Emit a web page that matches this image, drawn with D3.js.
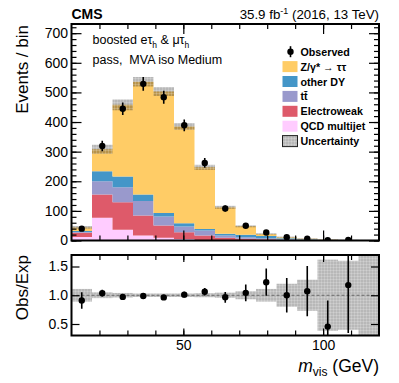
<!DOCTYPE html>
<html>
<head>
<meta charset="utf-8">
<script src="https://cdn.jsdelivr.net/npm/d3@7"></script>
<style>
  body { margin: 0; background: #fff; }
  svg { font-family: "Liberation Sans", Arial, Helvetica, sans-serif; }
  .axis path { display: none; }
  .axis line { stroke: #000; stroke-width: 1.2; }
  .axis text { font-size: 14px; fill: #000; }
</style>
</head>
<body>
<div id="chart"></div>
<script>
// bin edges of m_vis (GeV), 15 bins
var binEdges = [10, 17.33, 24.67, 32, 39.33, 46.67, 54, 61.33, 68.67, 76, 83.33, 90.67, 98, 105.33, 112.67, 120];

// stacked backgrounds, bottom to top
var qcd     = [12, 77, 36, 17, 9, 5, 2, 1, 0.5, 0.3, 0.2, 0.1, 0, 0, 0];
var ewk     = [14, 78, 93, 67, 42, 23, 15, 8, 5.5, 3.7, 1.8, 1, 0.4, 0.3, 0.2];
var ttbar   = [3, 45, 51, 49, 30, 19, 17, 8, 5, 4, 2, 1.5, 0.5, 0.4, 0.3];
var otherDY = [3, 34, 36, 22, 12, 11, 5, 6, 8, 7, 4, 2, 0.8, 0.6, 0.4];
var ztt     = [12, 74, 242, 381, 410, 327, 208, 89, 29, 7, 3, 1, 0.5, 0.4, 0.3];

var observed = [40, 319, 445, 529, 484, 389, 262, 108, 50, 27, 11, 6, 1, 2, 0];
// relative uncertainty of the expectation
var relUnc = [0.11, 0.05, 0.04, 0.03, 0.03, 0.03, 0.035, 0.045, 0.07, 0.11, 0.2, 0.27, 0.62, 0.6, 0.7];

var yTicks = [0, 100, 200, 300, 400, 500, 600, 700];
var ratioTicks = [0.5, 1.0, 1.5];
var xTicks = [50, 100];

var keys = ["qcd", "ewk", "ttbar", "otherDY", "ztt"];
var colors = {qcd: "#ffccff", ewk: "#de5a6a", ttbar: "#9999cc", otherDY: "#4496c8", ztt: "#ffcc66"};

var rows = binEdges.slice(0, -1).map(function(e, i) {
  return {i: i, lo: binEdges[i], hi: binEdges[i + 1],
    qcd: qcd[i], ewk: ewk[i], ttbar: ttbar[i], otherDY: otherDY[i], ztt: ztt[i]};
});
var totals = rows.map(function(r) { return r.qcd + r.ewk + r.ttbar + r.otherDY + r.ztt; });

const W = 399, H = 383;
const L = 71.5, R = 379, T1 = 24, B1 = 240.5, T2 = 255, B2 = 335.5;

var svg = d3.select("#chart").append("svg").attr("width", W).attr("height", H);
var defs = svg.append("defs");

var pat = defs.append("pattern").attr("id", "hatch")
  .attr("patternUnits", "userSpaceOnUse").attr("width", 3).attr("height", 3);
pat.append("rect").attr("width", 3).attr("height", 3).attr("fill", "rgba(0,0,0,0.28)");
pat.append("rect").attr("width", 3).attr("height", 1).attr("fill", "rgba(255,255,255,0.18)");
pat.append("rect").attr("width", 1).attr("height", 3).attr("fill", "rgba(255,255,255,0.18)");

defs.append("clipPath").attr("id", "clipTop").append("rect")
  .attr("x", L).attr("y", T1).attr("width", R - L).attr("height", B1 - T1);
defs.append("clipPath").attr("id", "clipBot").append("rect")
  .attr("x", L).attr("y", T2).attr("width", R - L).attr("height", B2 - T2);

var x = d3.scaleLinear().domain([10, 120]).range([L, R]);
var y = d3.scaleLinear().domain([0, 731]).range([B1, T1]);
var yr = d3.scaleLinear().domain([0.3, 1.7]).range([B2, T2]);

// ---- upper panel: stacked histogram
var stacked = d3.stack().keys(keys)(rows);
var area = d3.area()
  .x(function(p) { return x(p.x); })
  .y0(function(p) { return y(p.y0); })
  .y1(function(p) { return y(p.y1); });

var gTop = svg.append("g").attr("clip-path", "url(#clipTop)");
stacked.forEach(function(s) {
  var pts = [];
  s.forEach(function(d, i) {
    pts.push({x: rows[i].lo, y0: d[0], y1: d[1]});
    pts.push({x: rows[i].hi, y0: d[0], y1: d[1]});
  });
  gTop.append("path").attr("d", area(pts)).attr("fill", colors[s.key]);
});

// uncertainty band
gTop.selectAll(".unc").data(rows).enter().append("rect")
  .attr("x", function(d) { return x(d.lo); })
  .attr("width", function(d) { return x(d.hi) - x(d.lo); })
  .attr("y", function(d) { return y(totals[d.i] * (1 + relUnc[d.i])); })
  .attr("height", function(d) { return y(totals[d.i] * (1 - relUnc[d.i])) - y(totals[d.i] * (1 + relUnc[d.i])); })
  .attr("fill", "url(#hatch)");

// observed
var obsRows = rows.filter(function(d) { return observed[d.i] > 0; });
gTop.selectAll(".err").data(obsRows).enter().append("line")
  .attr("x1", function(d) { return x((d.lo + d.hi) / 2); })
  .attr("x2", function(d) { return x((d.lo + d.hi) / 2); })
  .attr("y1", function(d) { return y(observed[d.i] + Math.sqrt(observed[d.i])); })
  .attr("y2", function(d) { return y(observed[d.i] - Math.sqrt(observed[d.i])); })
  .attr("stroke", "#000").attr("stroke-width", 1.6);
gTop.selectAll(".pt").data(obsRows).enter().append("circle")
  .attr("cx", function(d) { return x((d.lo + d.hi) / 2); })
  .attr("cy", function(d) { return y(observed[d.i]); })
  .attr("r", 3.2).attr("fill", "#000");

// ---- lower panel: ratio
var gBot = svg.append("g").attr("clip-path", "url(#clipBot)");
gBot.selectAll(".runc").data(rows).enter().append("rect")
  .attr("x", function(d) { return x(d.lo); })
  .attr("width", function(d) { return x(d.hi) - x(d.lo); })
  .attr("y", function(d) { return yr(1 + relUnc[d.i]); })
  .attr("height", function(d) { return yr(1 - relUnc[d.i]) - yr(1 + relUnc[d.i]); })
  .attr("fill", "url(#hatch)");
gBot.append("line")
  .attr("x1", L).attr("x2", R).attr("y1", yr(1)).attr("y2", yr(1))
  .attr("stroke", "#666").attr("stroke-width", 1.2).attr("stroke-dasharray", "3,2");
gBot.selectAll(".rerr").data(obsRows).enter().append("line")
  .attr("x1", function(d) { return x((d.lo + d.hi) / 2); })
  .attr("x2", function(d) { return x((d.lo + d.hi) / 2); })
  .attr("y1", function(d) { return yr((observed[d.i] + Math.sqrt(observed[d.i])) / totals[d.i]); })
  .attr("y2", function(d) { return yr((observed[d.i] - Math.sqrt(observed[d.i])) / totals[d.i]); })
  .attr("stroke", "#000").attr("stroke-width", 1.6);
gBot.selectAll(".rpt").data(obsRows).enter().append("circle")
  .attr("cx", function(d) { return x((d.lo + d.hi) / 2); })
  .attr("cy", function(d) { return yr(observed[d.i] / totals[d.i]); })
  .attr("r", 3.2).attr("fill", "#000");

// ---- axes (ticks point inward)
function noLabel(g) { g.selectAll("text").remove(); }
var minorX = d3.range(20, 120, 10);
var minorY = d3.range(0, 731, 20);

svg.append("g").attr("class", "axis").attr("transform", "translate(" + L + ",0)")
  .call(d3.axisLeft(y).tickValues(yTicks).tickSize(-10).tickPadding(4).tickFormat(d3.format("d")))
  .selectAll("text").attr("x", -3.5);
svg.append("g").attr("class", "axis").attr("transform", "translate(" + L + ",0)")
  .call(d3.axisLeft(y).tickValues(minorY).tickSize(-5)).call(noLabel);
svg.append("g").attr("class", "axis").attr("transform", "translate(" + R + ",0)")
  .call(d3.axisRight(y).tickValues(yTicks).tickSize(-10)).call(noLabel);
svg.append("g").attr("class", "axis").attr("transform", "translate(" + R + ",0)")
  .call(d3.axisRight(y).tickValues(minorY).tickSize(-5)).call(noLabel);

[B1, B2].forEach(function(yy) {
  svg.append("g").attr("class", "axis").attr("transform", "translate(0," + yy + ")")
    .call(d3.axisBottom(x).tickValues(minorX).tickSize(-5)).call(noLabel);
  svg.append("g").attr("class", "axis").attr("transform", "translate(0," + yy + ")")
    .call(d3.axisBottom(x).tickValues(xTicks).tickSize(yy == B1 ? -10 : -7)).call(noLabel);
});
[T1, T2].forEach(function(yy) {
  svg.append("g").attr("class", "axis").attr("transform", "translate(0," + yy + ")")
    .call(d3.axisTop(x).tickValues(minorX).tickSize(-5)).call(noLabel);
  svg.append("g").attr("class", "axis").attr("transform", "translate(0," + yy + ")")
    .call(d3.axisTop(x).tickValues(xTicks).tickSize(yy == T1 ? -10 : -7)).call(noLabel);
});

svg.append("g").attr("class", "axis").attr("transform", "translate(" + L + ",0)")
  .call(d3.axisLeft(yr).tickValues(ratioTicks).tickSize(-8).tickFormat(d3.format(".1f")))
  .selectAll("text").attr("x", -3.5);
svg.append("g").attr("class", "axis").attr("transform", "translate(" + R + ",0)")
  .call(d3.axisRight(yr).tickValues(ratioTicks).tickSize(-8)).call(noLabel);

svg.append("g").attr("class", "axis").attr("transform", "translate(0," + B2 + ")")
  .call(d3.axisBottom(x).tickValues(xTicks).tickSize(0).tickPadding(5));

// frames
[[T1, B1], [T2, B2]].forEach(function(f) {
  svg.append("rect").attr("x", L).attr("y", f[0]).attr("width", R - L).attr("height", f[1] - f[0])
    .attr("fill", "none").attr("stroke", "#000").attr("stroke-width", 2);
});

// ---- texts
svg.append("text").attr("x", 71.5).attr("y", 18.5)
  .attr("font-size", 14).attr("font-weight", "bold").text("CMS");

var lumi = svg.append("text").attr("x", 379).attr("y", 18.5)
  .attr("font-size", 13.3).attr("text-anchor", "end");
lumi.append("tspan").text("35.9 fb");
lumi.append("tspan").attr("font-size", 9).attr("dy", -5).text("-1");
lumi.append("tspan").attr("dy", 5).text(" (2016, 13 TeV)");

svg.append("text").attr("transform", "translate(28,25) rotate(-90)")
  .attr("text-anchor", "end").attr("font-size", 17).text("Events / bin");
svg.append("text").attr("transform", "translate(28,255) rotate(-90)")
  .attr("text-anchor", "end").attr("font-size", 17).text("Obs/Exp");

var xl = svg.append("text").attr("x", 379).attr("y", 372)
  .attr("font-size", 17.5).attr("text-anchor", "end");
xl.append("tspan").attr("font-style", "italic").text("m");
xl.append("tspan").attr("font-size", 12).attr("dy", 4).text("vis");
xl.append("tspan").attr("dy", -4).text(" (GeV)");

var t1 = svg.append("text").attr("x", 92.5).attr("y", 43.5).attr("font-size", 12.5);
t1.append("tspan").text("boosted e\u03c4");
t1.append("tspan").attr("font-size", 8.5).attr("dy", 4).text("h");
t1.append("tspan").attr("dy", -4).text(" & \u03bc\u03c4");
t1.append("tspan").attr("font-size", 8.5).attr("dy", 4).text("h");
svg.append("text").attr("x", 92.5).attr("y", 63.5).attr("font-size", 12.5)
  .attr("xml:space", "preserve").text("pass,  MVA iso Medium");

// ---- legend
var legendItems = [
  {label: "Z/\u03b3* \u2192 \u03c4\u03c4", key: "ztt"},
  {label: "other DY", key: "otherDY"},
  {label: "tt\u0304", key: "ttbar"},
  {label: "Electroweak", key: "ewk"},
  {label: "QCD multijet", key: "qcd"},
  {label: "Uncertainty", key: "unc"}
];
var lg = svg.append("g").attr("font-size", 10.7).attr("font-weight", "bold");
var rowH = 14.9, lgY0 = 51.7;
lg.append("line").attr("x1", 290.5).attr("x2", 290.5).attr("y1", lgY0 - 5.5).attr("y2", lgY0 + 5.5)
  .attr("stroke", "#000").attr("stroke-width", 1.6);
lg.append("circle").attr("cx", 290.5).attr("cy", lgY0).attr("r", 3.2).attr("fill", "#000");
lg.append("text").attr("x", 300.5).attr("y", lgY0 + 4).text("Observed");
legendItems.forEach(function(it, k) {
  var cy = lgY0 + rowH * (k + 1);
  lg.append("rect").attr("x", 282.5).attr("y", cy - 5.5).attr("width", 15).attr("height", 11)
    .attr("fill", it.key == "unc" ? "url(#hatch)" : colors[it.key])
    .attr("stroke", it.key == "unc" ? "#222" : "none").attr("stroke-width", 1);
  lg.append("text").attr("x", 300.5).attr("y", cy + 4).text(it.label);
});
</script>
</body>
</html>
